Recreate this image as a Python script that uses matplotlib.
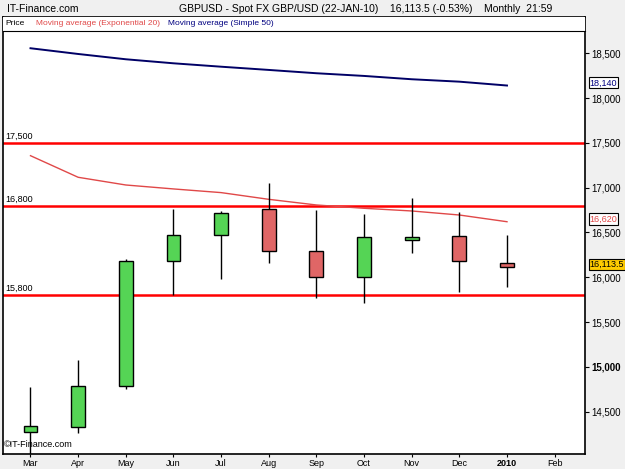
import matplotlib
matplotlib.use("Agg")
import matplotlib.pyplot as plt
import matplotlib.transforms as mtransforms
import numpy as np

plt.rcParams['font.family'] = ['Liberation Sans', 'DejaVu Sans']

# ---- data ----
months = ["Mar", "Apr", "May", "Jun", "Jul", "Aug", "Sep", "Oct", "Nov", "Dec", "2010", "Feb"]
opens  = [14277, 14333, 14787, 16182, 16469, 16762, 16294, 16007, 16413, 16461, 16156]
highs  = [14779, 15077, 16204, 16759, 16737, 17049, 16751, 16703, 16888, 16725, 16472]
lows   = [13740, 14266, 14750, 15799, 15984, 16163, 15766, 15710, 16268, 15833, 15895]
closes = [14340, 14787, 16182, 16469, 16721, 16290, 16007, 16446, 16453, 16179, 16118]
ema20  = [17357, 17116, 17030, 16986, 16945, 16870, 16807, 16770, 16740, 16695, 16620]
sma50  = [18556, 18492, 18433, 18388, 18350, 18314, 18277, 18247, 18210, 18183, 18140]
hlines = [17500, 16800, 15800]
hline_labels = ["17,500", "16,800", "15,800"]
yticks = [14500, 15000, 15500, 16000, 16500, 17000, 17500, 18000, 18500]
ytick_labels = ["14,500", "15,000", "15,500", "16,000", "16,500", "17,000", "17,500", "18,000", "18,500"]
last_labels = ["18,140", "16,620", "16,113.5"]
last_values = [18140, 16620, 16113.5]

W, H = 625, 469
fig = plt.figure(figsize=(W / 100, H / 100), dpi=100, facecolor="#f0f0f0")

left_px, right_px, top_px, bot_px = 3, 585, 16.7, 454
ax = fig.add_axes([left_px / W, 1 - bot_px / H, (right_px - left_px) / W, (bot_px - top_px) / H])
ax.set_facecolor("white")

x = np.arange(len(opens))
ax.set_xlim(-0.577, 11.637)
ax.set_ylim(14028, 18908)

# horizontal support/resistance lines
for v, lab in zip(hlines, hline_labels):
    ax.axhline(v, color="#ff0000", lw=1.8, zorder=2)
    ax.text(-0.53, v + 25, lab, fontsize=6.5, ha="left", va="bottom", color="black")

# moving averages
ax.plot(x, ema20, color="#e04848", lw=1.0, zorder=3)
ax.plot(x, sma50, color="#000066", lw=1.4, zorder=3)

# candles
up_color = "#55d455"
dn_color = "#e06666"
ax.vlines(x, lows, highs, color="black", lw=1.0, zorder=4)
colors = [up_color if c >= o else dn_color for o, c in zip(opens, closes)]
heights = [c - o for o, c in zip(opens, closes)]
ax.bar(x, heights, bottom=opens, width=0.29, color=colors, edgecolor="black", lw=1.0, zorder=5)

# axes styling
for s in ax.spines.values():
    s.set_color("black")
    s.set_linewidth(1.2)
ax.yaxis.tick_right()
ax.set_yticks(yticks)
ax.set_yticklabels(ytick_labels, fontsize=7)
for lbl in ax.get_yticklabels():
    if lbl.get_text() == "15,000":
        lbl.set_fontweight("bold")
ax.tick_params(axis="y", direction="out", length=3, pad=1.5, width=0.8)
ax.set_xticks(np.arange(len(months)))
ax.set_xticklabels(months, fontsize=6.5)
for lbl in ax.get_xticklabels():
    if lbl.get_text() == "2010":
        lbl.set_fontweight("bold")
ax.tick_params(axis="x", direction="out", length=2.5, pad=1, width=0.8)

# legend row
sep = (bot_px - 30.7) / (bot_px - top_px)
ax.plot([0, 1], [sep, sep], transform=ax.transAxes, color="black", lw=0.8, zorder=6, clip_on=False)
ax.add_patch(plt.Rectangle((0, sep), 1, 1 - sep, transform=ax.transAxes, facecolor="white", edgecolor="none", zorder=5.5))
ty = (sep + 1) / 2
ax.text(0.004, ty, "Price", transform=ax.transAxes, fontsize=6, va="center", ha="left", color="black", zorder=7)
ax.text(0.057, ty, "Moving average (Exponential 20)", transform=ax.transAxes, fontsize=6, va="center", ha="left", color="#e04848", zorder=7)
ax.text(0.284, ty, "Moving average (Simple 50)", transform=ax.transAxes, fontsize=6, va="center", ha="left", color="#000080", zorder=7)

# watermark
ax.text(0.002, 0.012, "\u00a9IT-Finance.com", transform=ax.transAxes, fontsize=6.5, ha="left", va="bottom", color="black")

# last-value boxes on the right axis
trans = mtransforms.blended_transform_factory(ax.transAxes, ax.transData)
box_styles = [("#000080", "white"), ("#e04848", "white"), ("black", "#ffcc00")]
for lab, v, (tc, fc) in zip(last_labels, last_values, box_styles):
    ax.text(1.008, v + 30, lab, transform=trans, fontsize=6.5, color=tc, ha="left", va="center",
            bbox=dict(facecolor=fc, edgecolor="black", lw=0.8, pad=0.8), clip_on=False, zorder=8)

# header
fig.text(7 / W, 1 - 8.5 / H, "IT-Finance.com", fontsize=7.5, ha="left", va="center", color="black")
fig.text(179 / W, 1 - 8.5 / H, "GBPUSD - Spot FX GBP/USD (22-JAN-10)    16,113.5 (-0.53%)    Monthly  21:59",
         fontsize=7.5, ha="left", va="center", color="black")

fig.savefig("out.png", dpi=100, facecolor=fig.get_facecolor())
